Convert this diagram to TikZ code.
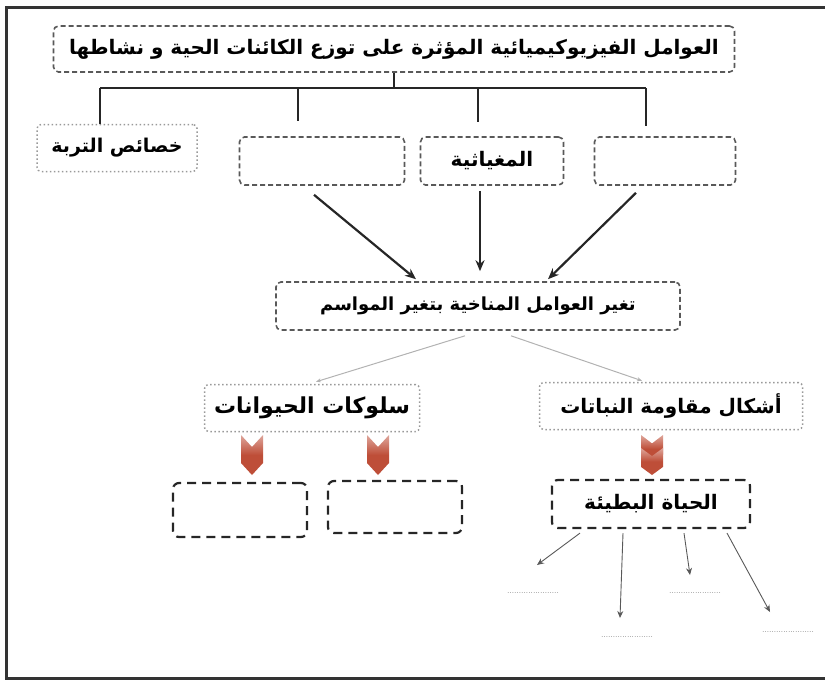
\documentclass[tikz,border=0pt]{standalone}
\usepackage{fontspec}
\usetikzlibrary{arrows.meta}
\TeXXeTstate=1
\newfontfamily\arabicfont[Script=Arabic]{DejaVu Sans}
\newcommand{\artext}[1]{\arabicfont\bfseries\beginR #1\endR}
\definecolor{chevred}{RGB}{190,78,56}
\newcommand{\chevron}[3]{\shade[top color=chevred!50!white,bottom color=chevred,middle color=chevred]
  (#1-11,#2) -- (#1,#2+#3*0.3) -- (#1+11,#2) -- (#1+11,#2+#3*0.7) -- (#1,#2+#3) -- (#1-11,#2+#3*0.7) -- cycle;}

\begin{document}
\begin{tikzpicture}[x=1pt,y=-1pt,
    dashbox/.style={draw=black!65,dash pattern=on 5pt off 3pt,line width=1.6pt,rounded corners=5pt,inner sep=0pt},
    dotbox/.style={draw=black!40,dash pattern=on 1.5pt off 2.5pt,line width=1.5pt,rounded corners=4pt,inner sep=0pt},
    blackbox/.style={draw=black!85,dash pattern=on 9pt off 6pt,line width=2.2pt,rounded corners=6pt,inner sep=0pt},
    tree/.style={line width=2pt,black!85},
    bigarrow/.style={line width=2.2pt,black!85,-{Stealth[length=11pt,width=9pt]}},
    thin/.style={line width=1pt,black!30,-{Stealth[length=5pt,width=4pt]}},
    pin/.style={line width=0.9pt,black!65,-{Stealth[length=7pt,width=6pt]}},
    dots/.style={text=black!75,font=\fontsize{8}{8}\selectfont,inner sep=0pt}]
    \useasboundingbox (0,0) rectangle (825,681);
    \draw[line width=3pt,black!80] (830,7) -- (6,7) -- (6,678) -- (830,678);

    % top of the tree
    \node[dashbox,minimum width=681pt,minimum height=46pt,font=\fontsize{20}{22}\selectfont] (title) at (394,49)
        {\artext{العوامل الفيزيوكيميائية المؤثرة على توزع الكائنات الحية و نشاطها}};
    \node[dotbox,minimum width=160pt,minimum height=47pt,font=\fontsize{19}{21}\selectfont] (soil) at (117,148) {\artext{خصائص التربة}};
    \node[dashbox,minimum width=165pt,minimum height=48pt] (emptyA) at (322,161) {};
    \node[dashbox,minimum width=143pt,minimum height=48pt,font=\fontsize{20}{22}\selectfont] (magnetic) at (492,161) {\artext{المغياثية}};
    \node[dashbox,minimum width=141pt,minimum height=48pt] (emptyB) at (665,161) {};

    \coordinate (barL) at (100,88);
    \coordinate (barR) at (646,88);
    \coordinate (jA) at (298,88);
    \coordinate (jB) at (478,88);
    \draw[tree] (title.south) -- (title.south |- barL);
    \draw[tree] (barL) -- (barR);
    \draw[tree] (barL) -- (barL |- soil.north);
    \draw[tree,shorten >=15pt] (jA) -- (jA |- emptyA.north);
    \draw[tree,shorten >=14pt] (jB) -- (jB |- magnetic.north);
    \draw[tree,shorten >=10pt] (barR) -- (barR |- emptyB.north);

    % climate
    \node[dashbox,minimum width=404pt,minimum height=48pt,font=\fontsize{18}{20}\selectfont] (change) at (478,306)
        {\artext{تغير العوامل المناخية بتغير المواسم}};
    \draw[bigarrow] ([xshift=-8pt,yshift=-9pt]emptyA.south) -- ([xshift=-62pt,yshift=2pt]change.north);
    \draw[bigarrow] ([xshift=-12pt,yshift=-5pt]magnetic.south) -- ([xshift=2pt,yshift=10pt]change.north);
    \draw[bigarrow] ([xshift=-29pt,yshift=-7pt]emptyB.south) -- ([xshift=70pt,yshift=2pt]change.north);

    \node[dotbox,minimum width=215pt,minimum height=47pt,font=\fontsize{22}{24}\selectfont] (animals) at (312,408) {\artext{سلوكات الحيوانات}};
    \node[dotbox,minimum width=263pt,minimum height=47pt,font=\fontsize{20}{22}\selectfont] (plants) at (671,406) {\artext{أشكال مقاومة النباتات}};
    \draw[thin] ([xshift=-13pt,yshift=-5pt]change.south) -- ([xshift=4pt,yshift=2pt]animals.north);
    \draw[thin] ([xshift=33pt,yshift=-5pt]change.south) -- ([xshift=-29pt,yshift=1pt]plants.north);

    \chevron{252}{435}{40}
    \chevron{378}{435}{40}
    \chevron{652}{435}{28}
    \chevron{652}{448}{27}

    % bottom row
    \node[blackbox,minimum width=134pt,minimum height=54pt] (boxA) at (240,510) {};
    \node[blackbox,minimum width=134pt,minimum height=52pt] (boxB) at (395,507) {};
    \node[blackbox,minimum width=198pt,minimum height=48pt,font=\fontsize{20}{22}\selectfont] (slow) at (651,504) {\artext{الحياة البطيئة}};

    \coordinate (tipA) at (537,565);
    \coordinate (tipB) at (620,618);
    \coordinate (tipC) at (690,575);
    \coordinate (tipD) at (770,612);
    \draw[pin] ([xshift=-71pt,yshift=-4pt]slow.south) -- (tipA);
    \draw[pin] ([xshift=-28pt,yshift=-4pt]slow.south) -- (tipB);
    \draw[pin] ([xshift=33pt,yshift=-4pt]slow.south) -- (tipC);
    \draw[pin] ([xshift=76pt,yshift=-4pt]slow.south) -- (tipD);
    \node[dots] (blankA) at (533,593) {......................};
    \node[dots] (blankB) at (627,637) {......................};
    \node[dots] (blankC) at (695,593) {......................};
    \node[dots] (blankD) at (788,632) {......................};
\end{tikzpicture}
\end{document}
